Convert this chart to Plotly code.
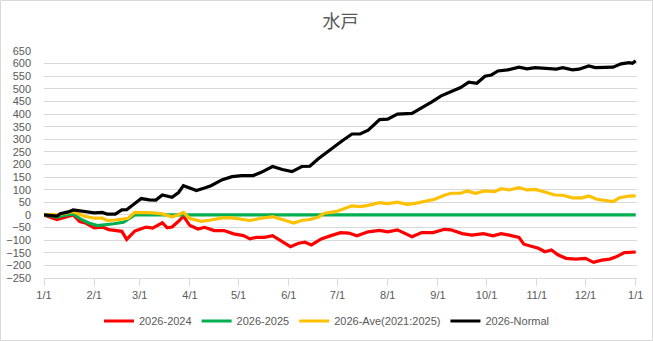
import pandas as pd
import plotly.graph_objects as go

# ---- data (day offset from 1 Jan 2026, value) ----
start = pd.Timestamp("2026-01-01")

red_days = [0, 4, 8, 13, 18, 22, 26, 31, 36, 40, 44, 48, 51, 56, 60, 63, 67, 73, 76, 79, 83, 86,
            90, 95, 99, 105, 111, 117, 123, 127, 131, 136, 141, 147, 152, 157, 161, 165, 171, 177,
            183, 188, 193, 200, 207, 212, 218, 227, 233, 240, 247, 251, 258, 264, 271, 277, 282,
            287, 293, 296, 301, 305, 309, 313, 317, 322, 328, 334, 339, 344, 349, 353, 358, 365]
red_vals = [0, -10, -18, -9, 0, -26, -33, -51, -48, -58, -62, -65, -97, -64, -55, -48, -52, -31, -51, -48, -25, -5,
            -42, -56, -49, -62, -62, -75, -82, -95, -89, -89, -82, -106, -126, -112, -108, -119, -95, -82,
            -70, -72, -83, -67, -61, -67, -59, -86, -70, -70, -57, -59, -74, -80, -74, -83, -74,
            -80, -89, -116, -126, -132, -146, -139, -158, -172, -175, -172, -188, -179, -175, -166, -149, -147]

green_days = [0, 4, 8, 12, 18, 23, 28, 33, 38, 43, 49, 52, 56, 365]
green_vals = [0, -4, -9, -2, 4, -18, -33, -42, -39, -35, -29, -16, 0, 0]

yellow_days = [0, 4, 8, 12, 18, 25, 31, 36, 39, 44, 49, 52, 56, 60, 67, 73, 79, 83, 86,
               90, 97, 103, 110, 116, 122, 127, 134, 141, 148, 154, 159, 164, 169, 173, 180, 185,
               190, 195, 200, 207, 212, 218, 224, 229, 235, 241, 247, 251, 257, 261, 266, 272, 278,
               282, 287, 293, 298, 303, 309, 315, 320, 326, 332, 336, 341, 346, 351, 355, 361, 365]
yellow_vals = [0, 2, 0, 5, 13, -5, -13, -13, -22, -20, -16, -13, 10, 10, 8, 4, -7, 1, 10,
               -14, -25, -20, -12, -12, -16, -22, -13, -7, -20, -32, -22, -18, -9, 7, 13, 25,
               36, 33, 38, 49, 45, 51, 42, 46, 55, 62, 78, 86, 86, 95, 86, 95, 92,
               104, 99, 108, 99, 101, 91, 79, 78, 68, 68, 75, 62, 58, 53, 68, 75, 76]

black_days = [0, 4, 8, 10, 15, 18, 24, 31, 36, 39, 44, 48, 51, 56, 60, 65, 69, 73, 76, 79, 83, 86,
              92, 94, 99, 103, 110, 116, 122, 129, 134, 141, 147, 153, 159, 164, 169, 177, 184, 190,
              195, 200, 207, 212, 218, 227, 233, 239, 245, 251, 257, 262, 267, 272, 276, 280, 286,
              293, 298, 303, 309, 316, 320, 326, 330, 336, 340, 347, 351, 356, 361, 363, 365]
black_vals = [0, -2, -5, 5, 12, 20, 14, 8, 10, 3, 3, 20, 21, 47, 65, 60, 59, 79, 76, 70, 89, 116,
              102, 97, 107, 116, 140, 152, 156, 156, 169, 192, 180, 172, 192, 193, 222, 262, 294, 321,
              321, 336, 378, 380, 400, 403, 424, 447, 472, 490, 505, 526, 522, 550, 555, 571, 575,
              586, 579, 584, 582, 578, 584, 575, 578, 591, 584, 584, 586, 599, 604, 601, 611]

series_names = ["2026-2024", "2026-2025", "2026-Ave(2021:2025)", "2026-Normal"]
series_colors = ["#FF0000", "#00B050", "#FFC000", "#000000"]

month_ticks = ["2026-01-01", "2026-02-01", "2026-03-01", "2026-04-01", "2026-05-01", "2026-06-01",
               "2026-07-01", "2026-08-01", "2026-09-01", "2026-10-01", "2026-11-01", "2026-12-01",
               "2027-01-01"]
month_labels = ["1/1", "2/1", "3/1", "4/1", "5/1", "6/1", "7/1", "8/1", "9/1", "10/1", "11/1", "12/1", "1/1"]
y_ticks = list(range(-250, 651, 50))


def to_dates(days):
    return [start + pd.Timedelta(days=d) for d in days]


W, H = 653, 341
L, R, T, B = 44, 16, 51, 63
pw, ph = W - L - R, H - T - B

fig = go.Figure()
for days, vals, name, col in [
    (red_days, red_vals, series_names[0], series_colors[0]),
    (green_days, green_vals, series_names[1], series_colors[1]),
    (yellow_days, yellow_vals, series_names[2], series_colors[2]),
    (black_days, black_vals, series_names[3], series_colors[3]),
]:
    fig.add_trace(go.Scatter(x=to_dates(days), y=vals, mode="lines", name=name,
                             line=dict(color=col, width=3.2)))

font_main = "Liberation Sans, Arial, sans-serif"
fig.update_layout(
    width=W, height=H,
    margin=dict(l=L, r=R, t=T, b=B, autoexpand=False),
    paper_bgcolor="white", plot_bgcolor="white",
    title=dict(text="水戸", x=0.5, xref="paper", xanchor="center", y=1 - 22 / H, yanchor="middle",
               font=dict(family="Noto Sans CJK JP", size=18, color="#595959")),
    font=dict(family=font_main, size=11, color="#595959"),
    showlegend=True,
    legend=dict(orientation="h", x=(327 - L) / pw, xanchor="center",
                yref="container", y=1 - 321 / H, yanchor="middle",
                font=dict(family=font_main, size=11, color="#595959"),
                itemwidth=30, tracegroupgap=0),
    xaxis=dict(type="date", automargin=False,
               range=[start, start + pd.Timedelta(days=365.8)],
               tickvals=month_ticks, ticktext=month_labels,
               ticks="outside", ticklen=7, tickcolor="#d9d9d9", tickwidth=1,
               showgrid=False, showline=True, linecolor="#d9d9d9", linewidth=1,
               zeroline=False, tickfont=dict(size=11, color="#595959")),
    yaxis=dict(range=[-250, 650], tickvals=y_ticks, automargin=False,
               showgrid=True, gridcolor="#d9d9d9", gridwidth=1,
               zeroline=False, showline=False, ticks="",
               ticklabelstandoff=12,
               tickfont=dict(size=11, color="#595959")),
    shapes=[dict(type="rect", xref="paper", yref="paper",
                 x0=(0.5 - L) / pw, x1=(W - 0.5 - L) / pw,
                 y0=-(H - 0.5 - T - ph) / ph, y1=1 + (T - 0.5) / ph,
                 line=dict(color="#d9d9d9", width=1), fillcolor="rgba(0,0,0,0)", layer="below")],
)

fig.write_html("out.html")
